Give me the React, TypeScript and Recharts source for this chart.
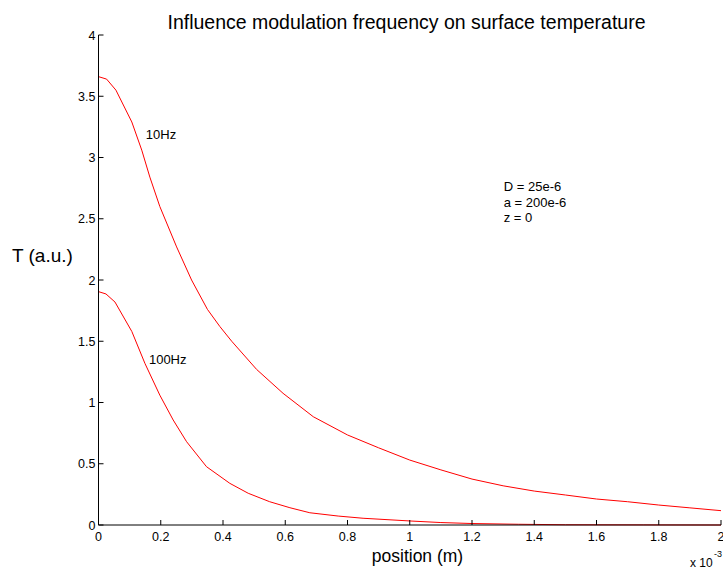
import React from "react";
import { LineChart, Line, XAxis, YAxis, ReferenceDot } from "recharts";

// positions in units of 1e-3 m
const pos10 = [0, 0.026, 0.056, 0.107, 0.139, 0.165, 0.197, 0.251, 0.299, 0.35, 0.39, 0.428, 0.508, 0.593, 0.69, 0.8, 0.9, 1.0, 1.1, 1.2, 1.3, 1.4, 1.5, 1.6, 1.7, 1.8, 1.9, 2.0];
const temp10 = [3.66, 3.64, 3.55, 3.29, 3.06, 2.84, 2.6, 2.27, 2.0, 1.76, 1.62, 1.5, 1.27, 1.075, 0.884, 0.735, 0.63, 0.53, 0.45, 0.375, 0.32, 0.277, 0.245, 0.212, 0.19, 0.163, 0.14, 0.117];

const pos100 = [0, 0.024, 0.053, 0.107, 0.149, 0.197, 0.24, 0.283, 0.347, 0.422, 0.481, 0.55, 0.615, 0.679, 0.77, 0.85, 1.0, 1.1, 1.2, 1.35, 1.5, 1.75, 2.0];
const temp100 = [1.905, 1.886, 1.82, 1.58, 1.32, 1.06, 0.857, 0.68, 0.476, 0.34, 0.259, 0.19, 0.141, 0.1, 0.073, 0.055, 0.033, 0.02, 0.012, 0.006, 0.002, 0.001, 0];

const xTicks = [0, 0.2, 0.4, 0.6, 0.8, 1, 1.2, 1.4, 1.6, 1.8, 2];
const yTicks = [0, 0.5, 1, 1.5, 2, 2.5, 3, 3.5, 4];

const curve10 = pos10.map((x, i) => ({ x, t: temp10[i] }));
const curve100 = pos100.map((x, i) => ({ x, t: temp100[i] }));

const FONT = "'Liberation Sans', Arial, sans-serif";

const XTick = (props: any) => {
  const { x, y, payload } = props;
  return (
    <g>
      <line x1={x} y1={y} x2={x} y2={y - 5} stroke="#000" />
      <text x={x} y={y + 16} textAnchor="middle" fontSize={12.5} fill="#000" fontFamily={FONT}>
        {payload.value}
      </text>
    </g>
  );
};

const YTick = (props: any) => {
  const { x, y, payload } = props;
  return (
    <g>
      <line x1={x} y1={y} x2={x + 5} y2={y} stroke="#000" />
      <text x={x - 3} y={y + 4.5} textAnchor="end" fontSize={12.5} fill="#000" fontFamily={FONT}>
        {payload.value}
      </text>
    </g>
  );
};

const note = (text: string) => ({
  value: text,
  position: "right" as const,
  offset: 0,
  fontSize: 13,
  fill: "#000",
  fontFamily: FONT,
});

export default function App() {
  return (
    <div style={{ position: "absolute", left: 0, top: 0, width: 723, height: 570, background: "#fff", fontFamily: FONT, overflow: "hidden" }}>
      <LineChart width={723} height={570} margin={{ top: 35, right: 2, bottom: 0, left: 0 }}>
        <XAxis
          type="number"
          dataKey="x"
          domain={[0, 2]}
          ticks={xTicks}
          height={45}
          tickSize={0}
          tickMargin={0}
          tick={<XTick />}
          stroke="#000"
          interval={0}
        />
        <YAxis
          type="number"
          dataKey="t"
          domain={[0, 4]}
          ticks={yTicks}
          width={98.5}
          tickSize={0}
          tickMargin={0}
          tick={<YTick />}
          stroke="#000"
          interval={0}
        />
        <Line data={curve10} dataKey="t" type="linear" stroke="#ff0000" strokeWidth={1} dot={false} isAnimationActive={false} />
        <Line data={curve100} dataKey="t" type="linear" stroke="#ff0000" strokeWidth={1} dot={false} isAnimationActive={false} />
        <ReferenceDot x={0.152} y={3.19} r={0} label={note("10Hz")} />
        <ReferenceDot x={0.162} y={1.355} r={0} label={note("100Hz")} />
        <ReferenceDot x={1.302} y={2.767} r={0} label={note("D = 25e-6")} />
        <ReferenceDot x={1.302} y={2.637} r={0} label={note("a = 200e-6")} />
        <ReferenceDot x={1.302} y={2.514} r={0} label={note("z = 0")} />
      </LineChart>
      <div style={{ position: "absolute", left: 0, width: 813, top: 11, textAlign: "center", fontSize: 19.5, whiteSpace: "nowrap" }}>
        Influence modulation frequency on surface temperature
      </div>
      <div style={{ position: "absolute", left: 12, top: 245, fontSize: 19, whiteSpace: "nowrap" }}>T (a.u.)</div>
      <div style={{ position: "absolute", left: 0, width: 835, top: 546, textAlign: "center", fontSize: 17.5, whiteSpace: "nowrap" }}>
        position (m)
      </div>
      <div style={{ position: "absolute", left: 690, top: 556, fontSize: 12, lineHeight: "14px", whiteSpace: "nowrap" }}>x 10</div>
      <div style={{ position: "absolute", left: 714, top: 549, fontSize: 9, lineHeight: "10px", whiteSpace: "nowrap" }}>-3</div>
    </div>
  );
}
